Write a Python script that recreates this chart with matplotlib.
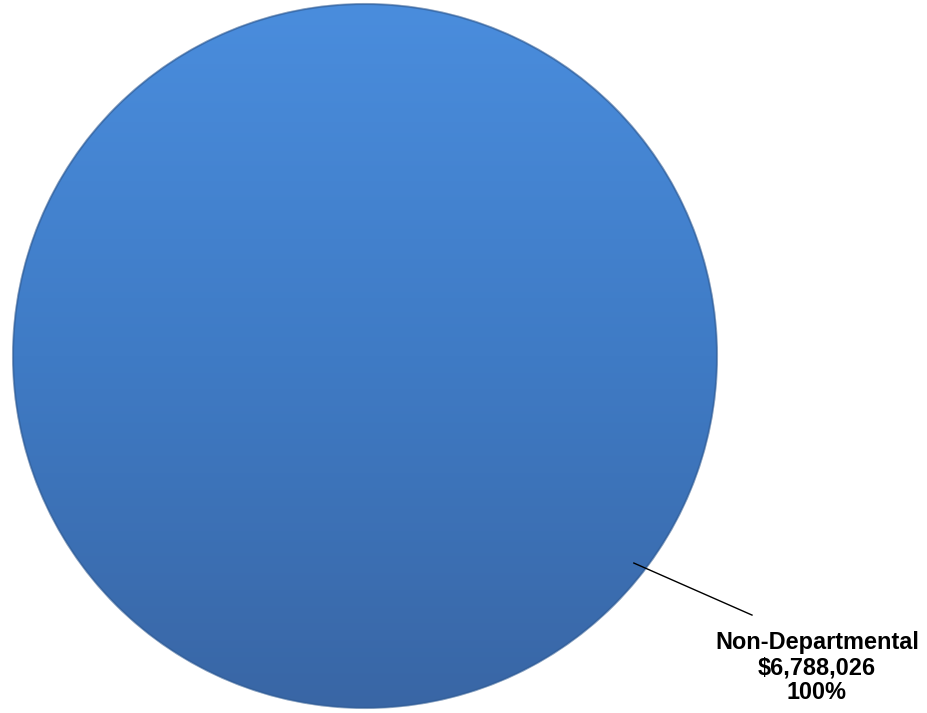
import numpy as np
import matplotlib
matplotlib.use("Agg")
import matplotlib.pyplot as plt
from matplotlib.colors import LinearSegmentedColormap

categories = ["Non-Departmental"]
values = [6788026]
percent_labels = ["100%"]

W, H = 927, 713
fig = plt.figure(figsize=(W / 100, H / 100), dpi=100)
ax = fig.add_axes([0, 0, 1, 1])
R = 352.0
cx, cy = 365.0, 357.0

wedges, _ = ax.pie(values, startangle=142.4, radius=1.0,
                   colors=["#3F7CC6"], wedgeprops=dict(linewidth=0),
                   normalize=True)
ax.set_xlim(-cx / R, (W - cx) / R)
ax.set_ylim(-cy / R, (H - cy) / R)
ax.set_aspect("auto")
ax.axis("off")

# vertical gradient fill clipped to the wedge
cmap = LinearSegmentedColormap.from_list("g", ["#3966A5", "#3F7BC5", "#4A8DDD"])
grad = np.linspace(0, 1, 256).reshape(-1, 1)
im = ax.imshow(grad, cmap=cmap, extent=[-1, 1, -1, 1], origin="lower",
               aspect="auto", zorder=2, interpolation="bilinear")
im.set_clip_path(wedges[0])

# subtle rim
rim = plt.Circle((0, 0), 1.0, fill=False, edgecolor="#2F5A92", linewidth=1.5,
                 alpha=0.6, zorder=3)
ax.add_patch(rim)

for w, cat, val, pct in zip(wedges, categories, values, percent_labels):
    mid = np.deg2rad((w.theta1 + w.theta2) / 2.0)
    p0 = (0.964 * np.cos(mid), 0.964 * np.sin(mid))
    ang2 = np.deg2rad(-33.8)
    p1 = (1.323 * np.cos(ang2), 1.323 * np.sin(ang2))
    ax.plot([p0[0], p1[0]], [p0[1], p1[1]], color="black", linewidth=1.0, zorder=4)
    ax.text(1.284, -0.885, f"{cat}\n${val:,}\n{pct}", ha="center", va="center",
            fontsize=16.9, fontweight="bold", family=["Liberation Sans", "DejaVu Sans"],
            linespacing=1.1, zorder=5)

fig.savefig("out.png", dpi=100)
